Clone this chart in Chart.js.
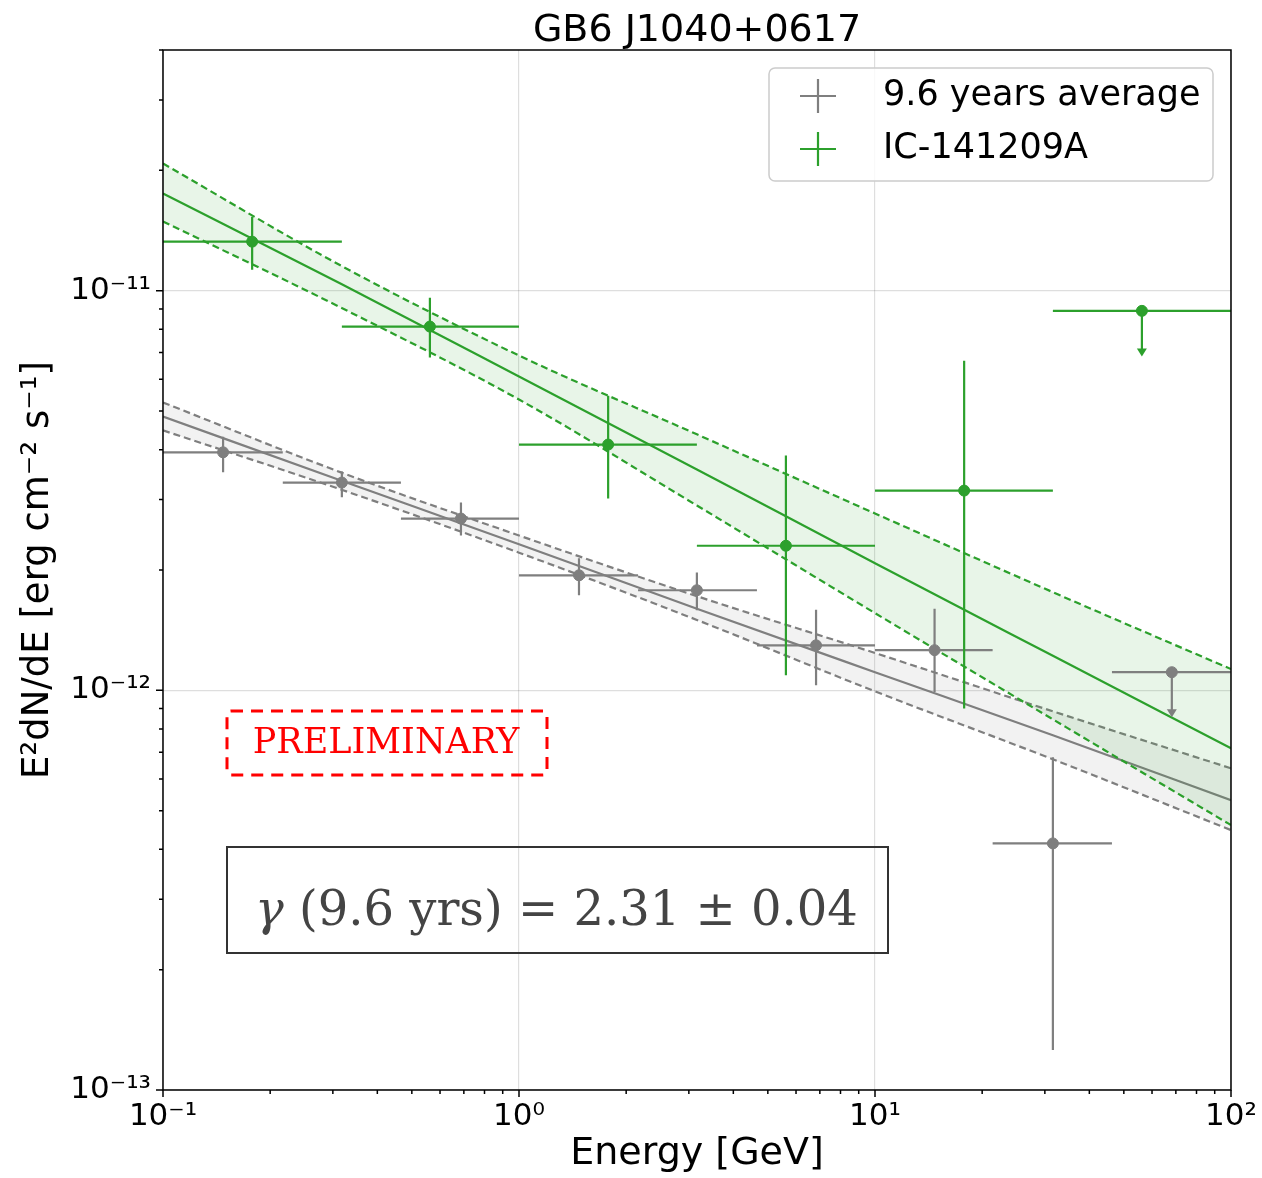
<!DOCTYPE html>
<html lang="en">
<head>
<meta charset="UTF-8">
<title>GB6 J1040+0617</title>
<script src="https://cdn.jsdelivr.net/npm/chart.js"></script>
<style>
  html, body { margin: 0; padding: 0; background: #fff; }
</style>
</head>
<body>
<canvas id="sed" width="1262" height="1178"></canvas>
<script>
// 9.6 years average (gray) - flux points, bin edges, y errors
const grayE    = [0.1475, 0.318, 0.687, 1.474, 3.16, 6.83, 14.7, 31.6]
const grayF    = [3.94e-12, 3.31e-12, 2.69e-12, 1.94e-12, 1.78e-12, 1.296e-12, 1.26e-12, 4.14e-13]
const grayElo  = [0.1, 0.217, 0.466, 1.0, 2.16, 4.66, 10, 21.4]
const grayEhi  = [0.217, 0.466, 1.0, 2.16, 4.66, 10, 21.4, 46.3]
const grayFlo  = [3.51e-12, 3.04e-12, 2.44e-12, 1.73e-12, 1.585e-12, 1.03e-12, 9.9e-13, 1.26e-13]
const grayFhi  = [4.31e-12, 3.53e-12, 2.95e-12, 2.14e-12, 1.97e-12, 1.59e-12, 1.6e-12, 6.8e-13]
// gray upper limit: [E, F, Elo, Ehi, arrow tip]
const grayUL   = [68.2, 1.11e-12, 46.3, 100, 8.56e-13]

// IC-141209A (green)
const greenE   = [0.178, 0.562, 1.78, 5.62, 17.8]
const greenF   = [1.326e-11, 8.13e-12, 4.12e-12, 2.3e-12, 3.16e-12]
const greenElo = [0.1, 0.318, 1.0, 3.16, 10]
const greenEhi = [0.318, 1.0, 3.16, 10, 31.6]
const greenFlo = [1.128e-11, 6.8e-12, 3.02e-12, 1.09e-12, 9.0e-13]
const greenFhi = [1.53e-11, 9.6e-12, 5.46e-12, 3.87e-12, 6.68e-12]
const greenUL  = [56.2, 8.9e-12, 31.6, 100, 6.84e-12]

// power-law fits and butterflies, read at these energies
const bandE      = [0.1, 0.316, 1, 3.16, 10, 31.6, 100]
const grayModel  = [4.84e-12, 3.35e-12, 2.32e-12, 1.60e-12, 1.11e-12, 7.72e-13, 5.31e-13]
const grayUp     = [5.25e-12, 3.51e-12, 2.44e-12, 1.72e-12, 1.24e-12, 8.86e-13, 6.38e-13]
const grayLow    = [4.47e-12, 3.18e-12, 2.21e-12, 1.50e-12, 9.94e-13, 6.72e-13, 4.47e-13]
const greenModel = [1.75e-11, 1.04e-11, 6.10e-12, 3.57e-12, 2.08e-12, 1.22e-12, 7.16e-13]
const greenUp    = [2.08e-11, 1.155e-11, 6.88e-12, 4.37e-12, 2.77e-12, 1.76e-12, 1.13e-12]
const greenLow   = [1.49e-11, 9.07e-12, 5.34e-12, 2.90e-12, 1.56e-12, 8.46e-13, 4.60e-13]

const xDecades = [0.1, 1, 10, 100]
const yDecades = [1e-13, 1e-12, 1e-11]
const xRange = [0.1, 100]
const yRange = [1e-13, 4.0e-11]

const GRAY = "#7f7f7f"
const GREEN = "#2ca02c"
const FONT = "'DejaVu Sans', sans-serif"
const SERIF = "'DejaVu Serif', serif"

const SUP = { "-": "\u207b", 0: "\u2070", 1: "\u00b9", 2: "\u00b2", 3: "\u00b3", 4: "\u2074", 5: "\u2075", 6: "\u2076", 7: "\u2077", 8: "\u2078", 9: "\u2079" }
const sup = (n) => String(n).split("").map((c) => SUP[c]).join("")
const isDecade = (v) => {
  const e = Math.round(Math.log10(v))
  return Math.abs(v / Math.pow(10, e) - 1) < 1e-9
}
const logLabel = (v) => (isDecade(v) ? "10" + sup(Math.round(Math.log10(v))) : "")

// minor+major tick values between decades
function logTicks(decades, max) {
  const out = []
  for (let i = 0; i < decades.length; i++) {
    for (let m = 1; m <= 9; m++) {
      const v = m * decades[i]
      if (v <= max * 1.0000001) out.push(v)
    }
  }
  return out
}
const xTickVals = logTicks(xDecades, xRange[1])
const yTickVals = logTicks(yDecades, yRange[1])

const pts = (xs, ys) => xs.map((x, i) => ({ x, y: ys[i] }))

const lineSet = (data, color, dashed, fill, fillColor) => ({
  type: "line",
  data,
  borderColor: color,
  borderWidth: 2.2,
  borderDash: dashed ? [7, 4] : [],
  pointRadius: 0,
  fill: fill ? "+1" : false,
  backgroundColor: fillColor || "transparent",
  cubicInterpolationMode: "monotone",
})

const pointSet = (data, color) => ({
  type: "line",
  data,
  showLine: false,
  pointRadius: 5.5,
  pointBackgroundColor: color,
  pointBorderColor: color,
  borderColor: color,
})

const errorBars = {
  id: "errorBars",
  afterDatasetsDraw(chart) {
    const { ctx, scales: { x, y }, chartArea } = chart
    ctx.save()
    ctx.beginPath()
    ctx.rect(chartArea.left, chartArea.top, chartArea.right - chartArea.left, chartArea.bottom - chartArea.top)
    ctx.clip()
    ctx.lineWidth = 2.2
    const draw = (E, F, Elo, Ehi, Flo, Fhi, color) => {
      ctx.strokeStyle = color
      for (let i = 0; i < E.length; i++) {
        const px = x.getPixelForValue(E[i]), py = y.getPixelForValue(F[i])
        ctx.beginPath()
        ctx.moveTo(x.getPixelForValue(Elo[i]), py)
        ctx.lineTo(x.getPixelForValue(Ehi[i]), py)
        ctx.moveTo(px, y.getPixelForValue(Fhi[i]))
        ctx.lineTo(px, y.getPixelForValue(Flo[i]))
        ctx.stroke()
      }
    }
    const drawUL = (ul, color) => {
      const [E, F, lo, hi, tip] = ul
      const px = x.getPixelForValue(E), py = y.getPixelForValue(F), pt = y.getPixelForValue(tip)
      ctx.strokeStyle = color
      ctx.fillStyle = color
      ctx.beginPath()
      ctx.moveTo(x.getPixelForValue(lo), py)
      ctx.lineTo(x.getPixelForValue(hi), py)
      ctx.moveTo(px, py)
      ctx.lineTo(px, pt - 6)
      ctx.stroke()
      ctx.beginPath()
      ctx.moveTo(px - 5, pt - 8)
      ctx.lineTo(px + 5, pt - 8)
      ctx.lineTo(px, pt)
      ctx.closePath()
      ctx.fill()
    }
    draw(grayE, grayF, grayElo, grayEhi, grayFlo, grayFhi, GRAY)
    draw(greenE, greenF, greenElo, greenEhi, greenFlo, greenFhi, GREEN)
    drawUL(grayUL, GRAY)
    drawUL(greenUL, GREEN)
    ctx.restore()
  },
}

const decorations = {
  id: "decorations",
  afterDraw(chart) {
    const { ctx, scales: { x, y }, chartArea: a } = chart
    ctx.save()
    // tick marks
    ctx.strokeStyle = "#000"
    ctx.lineWidth = 1.5
    ctx.beginPath()
    xTickVals.forEach((v) => {
      const px = x.getPixelForValue(v)
      ctx.moveTo(px, a.bottom)
      ctx.lineTo(px, a.bottom + (isDecade(v) ? 7 : 4))
    })
    yTickVals.forEach((v) => {
      const py = y.getPixelForValue(v)
      ctx.moveTo(a.left, py)
      ctx.lineTo(a.left - (isDecade(v) ? 7 : 4), py)
    })
    ctx.stroke()
    // frame
    ctx.lineWidth = 1.5
    ctx.strokeRect(a.left, a.top, a.right - a.left, a.bottom - a.top)

    // title
    ctx.fillStyle = "#000"
    ctx.font = "38px " + FONT
    ctx.textAlign = "center"
    ctx.textBaseline = "alphabetic"
    ctx.fillText("GB6 J1040+0617", (a.left + a.right) / 2, 41)

    // legend
    ctx.beginPath()
    ctx.roundRect(769, 68, 444, 113, 6)
    ctx.fillStyle = "rgba(255,255,255,0.8)"
    ctx.fill()
    ctx.strokeStyle = "#cccccc"
    ctx.lineWidth = 1.5
    ctx.stroke()
    const entries = [["9.6 years average", GRAY, 96], ["IC-141209A", GREEN, 149]]
    entries.forEach(([label, color, cy]) => {
      ctx.strokeStyle = color
      ctx.lineWidth = 2.2
      ctx.beginPath()
      ctx.moveTo(800, cy)
      ctx.lineTo(836, cy)
      ctx.moveTo(818, cy - 17)
      ctx.lineTo(818, cy + 17)
      ctx.stroke()
      ctx.fillStyle = "#000"
      ctx.font = "35px " + FONT
      ctx.textAlign = "left"
      ctx.textBaseline = "middle"
      ctx.fillText(label, 883, cy)
    })

    // PRELIMINARY box
    ctx.strokeStyle = "red"
    ctx.lineWidth = 3
    ctx.setLineDash([12, 8])
    ctx.beginPath()
    ctx.roundRect(227, 711, 320, 64, 4)
    ctx.stroke()
    ctx.setLineDash([])
    ctx.fillStyle = "red"
    ctx.font = "35px " + SERIF
    ctx.textAlign = "center"
    ctx.textBaseline = "middle"
    ctx.fillText("PRELIMINARY", 386, 744)

    // photon index box
    ctx.strokeStyle = "#333"
    ctx.lineWidth = 2
    ctx.strokeRect(227, 847, 661, 106)
    ctx.fillStyle = "#444"
    ctx.textAlign = "left"
    ctx.textBaseline = "middle"
    ctx.font = "italic 48px " + SERIF
    ctx.fillText("\u03b3", 255, 913)
    const gw = ctx.measureText("\u03b3").width
    ctx.font = "48px " + SERIF
    ctx.fillText(" (9.6 yrs) = 2.31 \u00b1 0.04", 255 + gw, 913)
    ctx.restore()
  },
}

new Chart(document.getElementById("sed"), {
  type: "line",
  data: {
    datasets: [
      pointSet(pts(greenE, greenF).concat([{ x: greenUL[0], y: greenUL[1] }]), GREEN),
      pointSet(pts(grayE, grayF).concat([{ x: grayUL[0], y: grayUL[1] }]), GRAY),
      lineSet(pts(bandE, greenModel), GREEN, false),
      lineSet(pts(bandE, greenUp), GREEN, true, true, "rgba(44,160,44,0.11)"),
      lineSet(pts(bandE, greenLow), GREEN, true),
      lineSet(pts(bandE, grayModel), GRAY, false),
      lineSet(pts(bandE, grayUp), GRAY, true, true, "rgba(127,127,127,0.1)"),
      lineSet(pts(bandE, grayLow), GRAY, true),
    ],
  },
  options: {
    responsive: false,
    animation: false,
    devicePixelRatio: 1,
    layout: { padding: { top: 50, right: 31, left: 0, bottom: 0 } },
    plugins: { legend: { display: false }, title: { display: false }, tooltip: { enabled: false } },
    scales: {
      x: {
        type: "logarithmic",
        min: xRange[0],
        max: xRange[1],
        afterBuildTicks: (s) => { s.ticks = xTickVals.map((v) => ({ value: v })) },
        afterFit: (s) => { s.height = 88; s.paddingRight = 0; s.paddingLeft = 0 },
        border: { display: false },
        grid: {
          drawTicks: false,
          lineWidth: 1.2,
          color: (c) => (c.tick && isDecade(c.tick.value) ? "rgba(0,0,0,0.13)" : "transparent"),
        },
        ticks: {
          autoSkip: false,
          maxRotation: 0,
          padding: 8,
          color: "#000",
          font: { family: FONT, size: 31 },
          callback: (v) => logLabel(v),
        },
        title: { display: true, text: "Energy [GeV]", color: "#000", font: { family: FONT, size: 38 }, padding: { top: 0, bottom: 1 } },
      },
      y: {
        type: "logarithmic",
        min: yRange[0],
        max: yRange[1],
        afterBuildTicks: (s) => { s.ticks = yTickVals.map((v) => ({ value: v })) },
        afterFit: (s) => { s.width = 163; s.paddingTop = 0; s.paddingBottom = 0 },
        border: { display: false },
        grid: {
          drawTicks: false,
          lineWidth: 1.2,
          color: (c) => (c.tick && isDecade(c.tick.value) ? "rgba(0,0,0,0.13)" : "transparent"),
        },
        ticks: {
          autoSkip: false,
          padding: 12,
          color: "#000",
          font: { family: FONT, size: 31 },
          callback: (v) => logLabel(v),
        },
        title: { display: true, text: "E\u00b2dN/dE [erg cm\u207b\u00b2 s\u207b\u00b9]", color: "#000", font: { family: FONT, size: 37 }, padding: { top: 16, bottom: 0 } },
      },
    },
  },
  plugins: [errorBars, decorations],
})
</script>
</body>
</html>
